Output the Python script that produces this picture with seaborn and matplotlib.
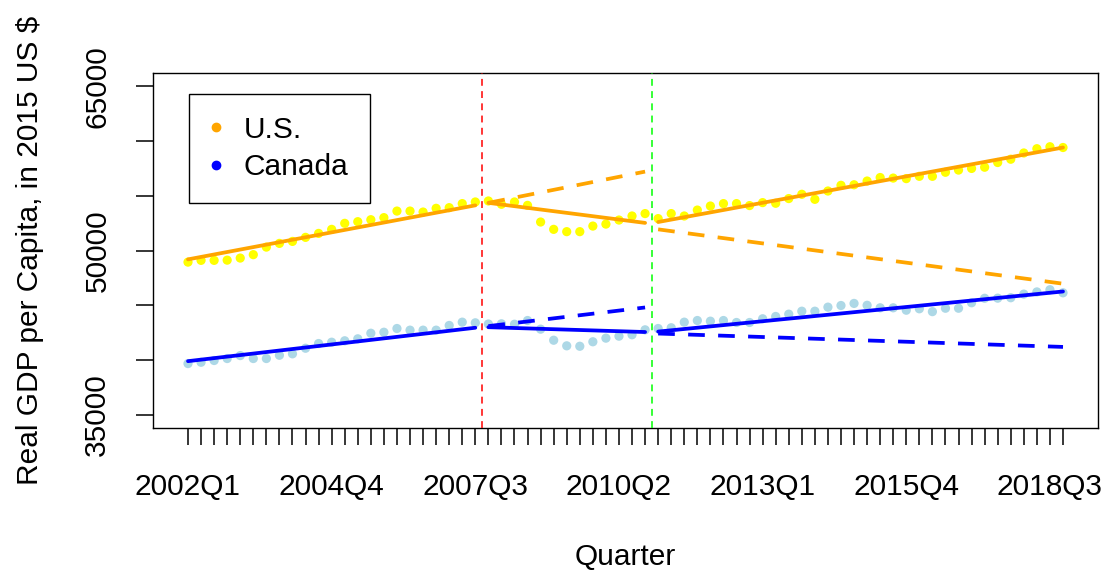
import matplotlib
matplotlib.use("Agg")
import matplotlib.pyplot as plt
from matplotlib.lines import Line2D
import numpy as np
import pandas as pd
import seaborn as sns

# Quarterly real GDP per capita (2015 US $), 2002Q1 .. 2018Q4
quarters = [f"{2002 + i // 4}Q{i % 4 + 1}" for i in range(68)]

us_gdp = [
    48940, 49100, 49100, 49120, 49310, 49620, 50310, 50650, 50830, 51200,
    51560, 51930, 52480, 52630, 52810, 53000, 53600, 53600, 53510, 53850,
    53910, 54280, 54430, 54520, 54220, 54430, 54120, 52600, 51930, 51720,
    51720, 52230, 52410, 52780, 53150, 53370, 52910, 53370, 53150, 53690,
    54060, 54280, 54280, 54100, 54370, 54310, 54740, 55130, 54670, 55430,
    55950, 56000, 56340, 56660, 56610, 56560, 56770, 56770, 57140, 57340,
    57490, 57600, 58030, 58330, 58900, 59290, 59470, 59400,
]

canada_gdp = [
    39680, 39800, 39960, 40140, 40410, 40140, 40140, 40440, 40570, 41080,
    41510, 41630, 41760, 41940, 42450, 42540, 42880, 42730, 42730, 42730,
    43160, 43460, 43400, 43290, 43310, 43270, 43610, 42820, 41810, 41300,
    41260, 41670, 42000, 42180, 42310, 42760, 42880, 42950, 43460, 43610,
    43550, 43610, 43430, 43430, 43770, 43980, 44190, 44460, 44460, 44830,
    44980, 45170, 45000, 44770, 44770, 44550, 44680, 44420, 44730, 44730,
    45230, 45640, 45650, 45690, 46020, 46220, 46420, 46140,
]

# Linear trends per period: (first quarter, last quarter, start value, end value, dashed)
us_trends = [
    (0, 22, 49190, 54120, False),   # pre-recession trend
    (23, 35, 54350, 52520, False),  # recession period
    (36, 67, 52600, 59400, False),  # recovery period
    (23, 35, 54350, 57200, True),   # pre-recession trend carried forward
    (36, 67, 51930, 46970, True),   # recession trend carried forward
]
canada_trends = [
    (0, 22, 39900, 42950, False),
    (23, 35, 43000, 42560, False),
    (36, 67, 42600, 46260, False),
    (23, 35, 43100, 44800, True),
    (36, 67, 42420, 41200, True),
]

recession_start = 22.5   # between 2007Q3 and 2007Q4
recovery_start = 35.5    # between 2010Q4 and 2011Q1

sns.set_theme(style="white")
plt.rcParams["font.family"] = ["Liberation Sans", "DejaVu Sans"]
for key in ("text.color", "axes.labelcolor", "xtick.color", "ytick.color",
            "axes.edgecolor"):
    plt.rcParams[key] = "black"
FS = 21.5

fig = plt.figure(figsize=(11.08, 5.73), dpi=100)
ax = fig.add_axes([153 / 1108, 1 - 428 / 573, 945 / 1108, 355 / 573])

idx = np.arange(len(quarters))
points = pd.DataFrame({
    "q": np.concatenate([idx, idx]),
    "gdp": us_gdp + canada_gdp,
    "country": ["U.S."] * len(idx) + ["Canada"] * len(idx),
})

sns.scatterplot(data=points, x="q", y="gdp", hue="country",
                palette={"U.S.": "#FFFF00", "Canada": "#ADD8E6"},
                s=44, linewidth=0, legend=False, ax=ax, zorder=2)

dash = (0, (4.45, 3.55))
for trends, col in [(us_trends, "#FFA500"), (canada_trends, "#0000FF")]:
    for q0, q1, v0, v1, dashed in trends:
        seg = pd.DataFrame({"q": [q0, q1], "gdp": [v0, v1]})
        sns.lineplot(data=seg, x="q", y="gdp", color=col, linewidth=2.7,
                     linestyle=dash if dashed else "-", estimator=None,
                     sort=False, ax=ax, zorder=3)

ax.axvline(recession_start, color="#FF0000", linewidth=1.1,
           linestyle=(0, (4.5, 3.5)), zorder=4)
ax.axvline(recovery_start, color="#00FF00", linewidth=1.1,
           linestyle=(0, (4.5, 3.5)), zorder=4)

ax.set_xlim(-2.68, 69.68)
ax.set_ylim(33800, 66200)

ax.set_xticks(idx)
ax.set_xticklabels([q if i % 11 == 0 else "" for i, q in enumerate(quarters)],
                   fontsize=FS)
yt = list(range(35000, 65001, 5000))
ax.set_yticks(yt)
ax.set_yticklabels([str(v) if v in (35000, 50000, 65000) else "" for v in yt],
                   fontsize=FS, rotation=90, va="center")

ax.tick_params(axis="both", direction="out", length=12, width=1.1,
               color="black", labelcolor="black", bottom=True, left=True,
               top=False, right=False)
ax.tick_params(axis="x", pad=20.5)
ax.tick_params(axis="y", pad=18)
for sp in ax.spines.values():
    sp.set_visible(True)
    sp.set_color("black")
    sp.set_linewidth(1.0)
ax.set_xlabel("")
ax.set_ylabel("")
ax.grid(False)

fig.text(625.5 / 1108, 1 - 557 / 573, "Quarter", ha="center", va="center",
         fontsize=FS)
fig.text(30 / 1108, 1 - 250.5 / 573, "Real GDP per Capita, in 2015 US $",
         ha="center", va="center", rotation=90, fontsize=FS)

handles = [
    Line2D([], [], marker="o", linestyle="none", color="#FFA500",
           markersize=6, label="U.S."),
    Line2D([], [], marker="o", linestyle="none", color="#0000FF",
           markersize=6, label="Canada"),
]
leg = ax.legend(handles=handles, loc="upper left",
                bbox_to_anchor=(0.0381, 0.940), borderaxespad=0,
                fontsize=FS, frameon=True, fancybox=False, framealpha=1,
                edgecolor="black", borderpad=0.72, handlelength=0.4,
                handletextpad=0.7, labelspacing=0.32)
leg.get_frame().set_linewidth(1.0)

fig.savefig("out.png", dpi=100, facecolor="white")
